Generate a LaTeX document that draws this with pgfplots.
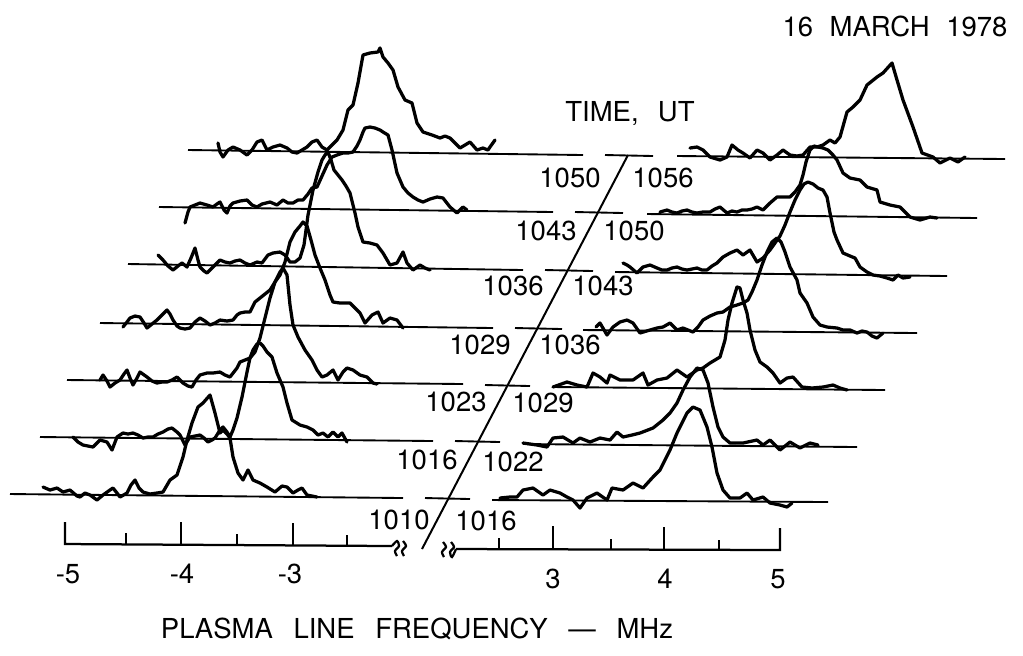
\documentclass[border=0pt]{standalone}
\usepackage{pgfplots}
\pgfplotsset{compat=1.18}
\usepackage{fontspec}
\setmainfont{TeX Gyre Heros}
\newcommand\lbl{\fontsize{11}{13}\selectfont}
\begin{document}
\begin{tikzpicture}
\begin{axis}[
    scale only axis, width=409.2pt, height=262pt,
    xmin=0, xmax=1023, ymin=0, ymax=655, y dir=reverse,
    hide axis, clip=false, no markers,
    trace/.style={black, line width=1.3pt, line join=round, line cap=round},
    base/.style={black, line width=0.75pt},
]
\addplot[draw=none, forget plot] coordinates {(0,0) (1023,655)};

% baselines, row by row (bottom = 1010/1016)
\addplot[base] coordinates {(10,494) (403,498)};
\addplot[base] coordinates {(425,498) (470,499)};
\addplot[base] coordinates {(492,500) (828,502)};
\addplot[base] coordinates {(40,437) (433,441)};
\addplot[base] coordinates {(455,441) (500,442)};
\addplot[base] coordinates {(523,444) (857,447)};
\addplot[base] coordinates {(67,380) (463,384)};
\addplot[base] coordinates {(485,385) (530,386)};
\addplot[base] coordinates {(553,387) (885,390)};
\addplot[base] coordinates {(100,323) (493,328)};
\addplot[base] coordinates {(515,328) (562,329)};
\addplot[base] coordinates {(583,330) (917,333)};
\addplot[base] coordinates {(128,264) (523,270)};
\addplot[base] coordinates {(545,270) (593,271)};
\addplot[base] coordinates {(615,272) (947,276)};
\addplot[base] coordinates {(159,207) (553,212)};
\addplot[base] coordinates {(575,212) (623,213)};
\addplot[base] coordinates {(647,214) (977,218)};
\addplot[base] coordinates {(188,150) (583,155)};
\addplot[base] coordinates {(605,155) (653,156)};
\addplot[base] coordinates {(677,156) (1005,159)};
% time diagonal
\addplot[black, line width=0.8pt] coordinates {(422,549) (628,155)};

% ---- negative frequency spectra ----
\addplot[trace] coordinates {(43,487) (50,490) (57,488) (63,492) (70,490) (77,496) (80,497) (85,493) (90,495) (97,500) (103,495) (110,490) (113,488) (117,493) (120,497) (127,493) (131,485) (135,480) (139,488) (143,492) (150,494) (157,493) (163,492) (170,480) (177,475) (183,457) (187,440) (192,423) (198,407) (203,403) (210,395) (215,413) (220,433) (223,430) (227,434) (230,438) (233,457) (238,473) (243,480) (248,470) (253,480) (260,483) (267,487) (275,492) (282,486) (287,487) (293,493) (298,490) (302,488) (307,495) (312,496) (317,497)};
\addplot[trace] coordinates {(73,437) (78,442) (83,445) (88,446) (93,447) (100,440) (107,442) (112,450) (117,437) (123,433) (128,434) (133,433) (138,435) (143,438) (148,437) (153,437) (158,434) (163,432) (168,429) (172,428) (177,432) (180,435) (185,445) (190,437) (195,436) (200,435) (204,438) (208,442) (212,440) (215,438) (220,430) (223,427) (227,432) (230,437) (233,430) (237,418) (242,397) (247,372) (250,358) (253,350) (257,344) (260,343) (263,346) (267,352) (272,357) (277,373) (283,387) (287,403) (292,420) (300,425) (307,427) (313,430) (318,435) (323,433) (328,437) (333,432) (338,437) (342,433) (347,442)};
\addplot[trace] coordinates {(100,380) (103,375) (107,381) (110,387) (115,383) (120,380) (124,374) (127,370) (130,378) (133,385) (137,378) (140,372) (147,377) (152,381) (157,383) (162,382) (167,382) (172,380) (177,377) (183,383) (188,386) (192,387) (196,380) (200,375) (207,373) (213,373) (220,372) (225,375) (230,377) (237,368) (240,362) (245,360) (250,358) (255,352) (260,338) (265,318) (270,298) (275,282) (280,272) (283,268) (287,275) (290,305) (293,325) (298,337) (305,350) (312,360) (317,370) (322,377) (327,375) (333,370) (338,380) (343,372) (347,368) (353,370) (360,375) (367,377) (373,383) (377,384)};
\addplot[trace] coordinates {(123,327) (127,322) (130,318) (135,316) (140,317) (144,323) (147,328) (152,324) (157,320) (162,315) (167,310) (170,314) (173,320) (177,326) (180,328) (185,329) (190,328) (195,322) (200,318) (205,321) (210,325) (215,323) (220,320) (227,321) (233,320) (237,315) (240,313) (245,312) (250,312) (255,302) (260,298) (265,294) (270,290) (275,282) (280,275) (285,262) (290,242) (295,232) (300,226) (303,222) (307,226) (311,240) (315,255) (320,268) (325,280) (330,295) (333,302) (340,303) (350,303) (355,308) (360,313) (365,323) (372,315) (378,312) (383,323) (390,318) (397,320) (403,328)};
\addplot[trace] coordinates {(158,255) (163,260) (168,266) (173,270) (178,266) (182,263) (187,267) (191,258) (195,248) (198,260) (200,267) (204,271) (207,273) (213,267) (220,260) (225,262) (230,263) (235,261) (240,260) (245,263) (250,265) (257,262) (262,263) (268,255) (273,253) (280,252) (285,255) (290,262) (295,262) (300,258) (304,245) (308,215) (313,190) (318,172) (322,160) (325,155) (328,152) (331,160) (334,170) (338,175) (342,180) (346,186) (350,193) (355,213) (358,227) (363,242) (370,243) (377,245) (383,253) (390,265) (397,263) (403,252) (407,263) (413,270) (420,265) (425,268) (430,270)};
\addplot[trace] coordinates {(185,223) (188,212) (190,207) (195,205) (200,203) (207,205) (213,207) (217,204) (220,202) (224,210) (227,213) (230,206) (233,203) (240,201) (247,200) (252,205) (257,207) (262,204) (270,202) (277,205) (283,200) (288,203) (293,203) (298,200) (303,200) (308,194) (312,188) (317,187) (322,176) (327,165) (332,157) (337,155) (343,153) (348,153) (353,152) (357,146) (360,140) (363,132) (365,128) (370,127) (375,128) (380,130) (383,132) (388,135) (392,150) (397,173) (403,187) (408,193) (413,197) (418,200) (423,202) (430,199) (437,197) (443,198) (450,207) (457,213) (463,207) (467,210)};
\addplot[trace] coordinates {(218,143) (220,152) (223,157) (228,150) (233,147) (240,150) (247,155) (252,150) (257,142) (262,140) (267,150) (273,147) (280,145) (287,148) (292,152) (297,153) (302,150) (307,147) (312,142) (317,140) (322,147) (327,150) (332,145) (337,140) (343,130) (348,110) (353,105) (358,83) (363,55) (370,53) (378,52) (380,48) (383,57) (388,63) (393,70) (398,87) (405,100) (412,103) (417,123) (423,132) (432,135) (440,138) (445,136) (450,138) (455,143) (460,148) (465,145) (470,142) (477,150) (483,148) (488,150) (490,147) (495,140)};

% ---- positive frequency spectra ----
\addplot[trace] coordinates {(500,498) (510,497) (517,497) (523,490) (533,488) (543,495) (550,490) (560,493) (567,497) (573,500) (580,508) (587,498) (597,493) (607,500) (612,488) (623,490) (633,483) (643,488) (653,477) (660,470) (670,450) (677,433) (687,413) (693,407) (700,410) (707,427) (712,447) (717,473) (723,490) (730,498) (740,498) (747,493) (753,500) (763,497) (770,503) (780,505) (787,507) (792,503)};
\addplot[trace] coordinates {(523,443) (537,445) (547,447) (553,438) (563,437) (573,443) (580,438) (590,442) (600,438) (610,440) (617,432) (623,437) (632,435) (640,433) (653,428) (663,420) (670,413) (677,403) (683,390) (690,377) (697,368) (703,370) (708,383) (713,407) (718,427) (723,437) (730,443) (743,443) (757,440) (763,445) (770,440) (780,450) (790,442) (800,448) (810,443) (818,445)};
\addplot[trace] coordinates {(553,387) (567,382) (577,385) (587,387) (593,373) (600,377) (607,383) (610,375) (620,380) (633,380) (643,373) (648,385) (657,380) (667,378) (677,370) (687,377) (697,370) (703,368) (710,363) (720,357) (725,340) (728,320) (732,303) (737,287) (740,288) (743,300) (747,313) (750,330) (755,350) (760,362) (767,367) (773,373) (780,383) (787,378) (793,377) (802,387) (812,388) (823,387) (833,385) (840,388) (847,390)};
\addplot[trace] coordinates {(596,327) (600,323) (607,335) (613,327) (620,322) (627,320) (633,323) (640,333) (650,330) (657,328) (663,327) (670,323) (677,330) (683,328) (693,332) (698,327) (703,320) (710,316) (717,313) (723,312) (730,307) (737,305) (743,303) (748,300) (752,292) (757,280) (762,265) (767,252) (772,242) (777,238) (781,242) (785,252) (790,267) (797,280) (800,293) (807,303) (813,317) (820,325) (827,327) (837,328) (843,330) (850,330) (857,333) (862,331) (867,332) (872,336) (877,338) (883,333)};
\addplot[trace] coordinates {(623,263) (627,265) (630,267) (637,273) (643,267) (650,265) (657,268) (662,270) (667,270) (672,268) (677,267) (682,269) (687,270) (692,269) (697,268) (702,270) (707,270) (712,266) (717,263) (723,257) (730,253) (737,250) (743,255) (750,250) (757,262) (763,258) (770,250) (775,243) (780,236) (785,225) (790,212) (795,200) (800,190) (804,184) (808,182) (813,184) (818,188) (823,190) (827,197) (830,213) (834,232) (837,240) (843,253) (850,256) (855,258) (860,267) (867,272) (873,275) (880,276) (887,278) (893,280) (898,275) (903,278) (910,277)};
\addplot[trace] coordinates {(660,212) (667,210) (672,212) (677,213) (682,211) (687,210) (692,212) (697,213) (703,212) (710,212) (715,209) (720,207) (727,213) (732,211) (737,212) (742,210) (747,210) (752,209) (757,207) (763,210) (767,206) (770,203) (777,197) (783,197) (790,197) (795,192) (800,185) (803,175) (806,162) (810,150) (814,146) (818,147) (823,148) (828,150) (833,155) (837,160) (843,173) (850,178) (860,180) (867,187) (877,190) (880,202) (890,205) (900,207) (910,217) (920,220) (930,217) (937,218)};
\addplot[trace] coordinates {(690,148) (697,147) (703,150) (710,157) (720,160) (727,157) (732,145) (738,150) (743,153) (750,158) (757,150) (763,153) (770,160) (777,155) (783,150) (790,155) (797,156) (803,155) (810,147) (817,147) (823,145) (830,140) (835,143) (840,137) (847,112) (853,107) (860,100) (867,85) (877,77) (883,73) (892,63) (897,80) (903,100) (913,127) (922,153) (933,157) (940,163) (950,158) (958,162) (965,157)};

% ---- frequency axis with break ----
\addplot[black, line width=0.9pt] coordinates {(65,522) (65,544) (392,546)};
\addplot[black, line width=0.9pt] coordinates {(456,549) (780,550) (780,528)};
\addplot[black, line width=0.9pt] coordinates {(181,544) (181,522)};
\addplot[black, line width=0.9pt] coordinates {(293,545) (293,523)};
\addplot[black, line width=0.9pt] coordinates {(126,544) (126,533)};
\addplot[black, line width=0.9pt] coordinates {(237,545) (237,534)};
\addplot[black, line width=0.9pt] coordinates {(347,546) (347,535)};
\addplot[black, line width=0.9pt] coordinates {(553,549) (553,526)};
\addplot[black, line width=0.9pt] coordinates {(664,550) (664,527)};
\addplot[black, line width=0.9pt] coordinates {(499,549) (499,538)};
\addplot[black, line width=0.9pt] coordinates {(611,549) (611,539)};
\addplot[black, line width=0.9pt] coordinates {(719,550) (719,540)};
\addplot[black, line width=0.9pt, smooth] coordinates {(392,546) (397,541) (399,546) (395,551) (397,556)};
\addplot[black, line width=0.9pt, smooth] coordinates {(403,541) (406,546) (402,551) (404,556)};
\addplot[black, line width=0.9pt, smooth] coordinates {(443,542) (446,547) (442,552) (444,557)};
\addplot[black, line width=0.9pt, smooth] coordinates {(451,542) (454,547) (450,552) (452,557) (456,549)};

% ---- text ----
\node[font=\lbl] at (axis cs:68,574) {-5};
\node[font=\lbl] at (axis cs:182,574) {-4};
\node[font=\lbl] at (axis cs:290,574) {-3};
\node[font=\lbl] at (axis cs:553,579) {3};
\node[font=\lbl] at (axis cs:665,579) {4};
\node[font=\lbl] at (axis cs:778,579) {5};
\node[font=\lbl] at (axis cs:417,629) {\spaceskip=0.75em\relax PLASMA LINE FREQUENCY --- MHz};
\node[font=\lbl] at (axis cs:895,26) {\spaceskip=0.6em\relax 16 MARCH 1978};
\node[font=\lbl] at (axis cs:630,113) {\spaceskip=0.7em\relax TIME, UT};
\node[font=\lbl] at (axis cs:570,178) {1050};
\node[font=\lbl] at (axis cs:663,178) {1056};
\node[font=\lbl] at (axis cs:546,231) {1043};
\node[font=\lbl] at (axis cs:634,231) {1050};
\node[font=\lbl] at (axis cs:513,286) {1036};
\node[font=\lbl] at (axis cs:603,286) {1043};
\node[font=\lbl] at (axis cs:480,345) {1029};
\node[font=\lbl] at (axis cs:570,345) {1036};
\node[font=\lbl] at (axis cs:456,402) {1023};
\node[font=\lbl] at (axis cs:543,403) {1029};
\node[font=\lbl] at (axis cs:427,460) {1016};
\node[font=\lbl] at (axis cs:513,462) {1022};
\node[font=\lbl] at (axis cs:399,520) {1010};
\node[font=\lbl] at (axis cs:486,521) {1016};
\end{axis}
\end{tikzpicture}
\end{document}
